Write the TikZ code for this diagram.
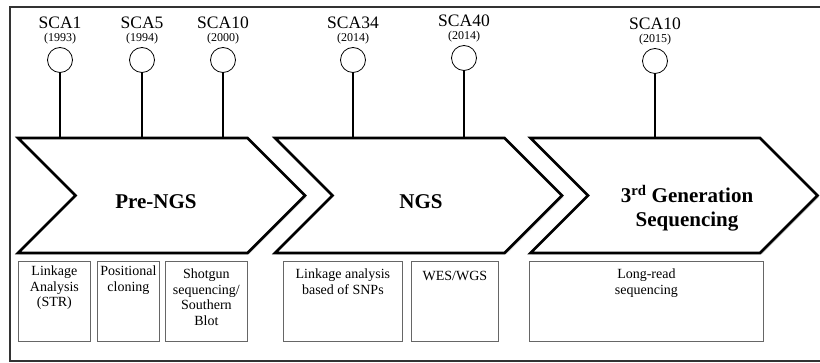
\documentclass[tikz,border=0pt]{standalone}
\usepackage{fontspec}
\setmainfont{Liberation Serif}
\usetikzlibrary{shapes.symbols,shadows,positioning}

\begin{document}
\begin{tikzpicture}[x=1pt,y=-1pt,
stage/.style={
draw, line width=2.6pt, fill=white,
shape=signal, signal to=east, signal from=west, signal pointer angle=90,
minimum width=287, minimum height=115, inner sep=0pt,
drop shadow={shadow xshift=1.5pt, shadow yshift=-1.5pt, opacity=0.35}
},
stagetext/.style={inner sep=0pt, align=center, font=\fontsize{21}{24}\selectfont\bfseries},
event/.style={draw, circle, minimum size=25, inner sep=0pt, line width=0.8pt},
stem/.style={line width=2.6pt},
year/.style={inner sep=0pt, font=\fontsize{12}{14}\selectfont},
gene/.style={inner sep=0pt, font=\fontsize{17.5}{20}\selectfont},
method/.style={draw=black!60, line width=0.8pt, minimum height=80, inner sep=0pt, anchor=north west},
methodtext/.style={inner sep=0pt, anchor=north, align=center, font=\fontsize{14}{15.5}\selectfont}
]
\useasboundingbox (0,0) rectangle (820,363);
\draw[line width=1.6pt, black!80] (10,7) rectangle (840,361);

% the three stages
\node[stage] (pre) at (161.5,195.5) {};
\node[stage] (ngs) at (418.5,195.5) {};
\node[stage] (third) at (674,195.5) {};
\node[stagetext] (pret) at (156,202) {Pre-NGS};
\node[stagetext] (ngst) at (421,202) {NGS};
\node[stagetext] (thirdt) at (687,208) {3\textsuperscript{rd} Generation\\Sequencing};

% milestones
\node[event] (e1) at (60,60) {};
\node[event] (e2) at (142,60) {};
\node[event] (e3) at (223,60) {};
\node[event] (e4) at (353,60) {};
\node[event] (e5) at (464,58) {};
\node[event] (e6) at (655,61) {};

\draw[stem] (e1.south) -- (e1.south |- pre.north);
\draw[stem] (e2.south) -- (e2.south |- pre.north);
\draw[stem] (e3.south) -- (e3.south |- pre.north);
\draw[stem] (e4.south) -- (e4.south |- ngs.north);
\draw[stem] (e5.south) -- (e5.south |- ngs.north);
\draw[stem] (e6.south) -- (e6.south |- third.north);

\node[year, above=3pt of e1] (y1) {(1993)};
\node[year, above=3pt of e2] (y2) {(1994)};
\node[year, above=3pt of e3] (y3) {(2000)};
\node[year, above=3pt of e4] (y4) {(2014)};
\node[year, above=3pt of e5] (y5) {(2014)};
\node[year, above=3pt of e6] (y6) {(2015)};

\node[gene, above=4pt of y1] (g1) {SCA1};
\node[gene, above=4pt of y2] (g2) {SCA5};
\node[gene, above=4pt of y3] (g3) {SCA10};
\node[gene, above=4pt of y4] (g4) {SCA34};
\node[gene, above=4pt of y5] (g5) {SCA40};
\node[gene, above=4pt of y6] (g6) {SCA10};

% methods of each stage
\node[method, minimum width=72] (m1) at (18,261) {};
\node[method, minimum width=62] (m2) at (97,261) {};
\node[method, minimum width=82] (m3) at (165,261) {};
\node[method, minimum width=119] (m4) at (283,261) {};
\node[method, minimum width=87] (m5) at (411,261) {};
\node[method, minimum width=234] (m6) at (529,261) {};

\node[methodtext] (l1) at ([yshift=-5]m1.north) {Linkage\\Analysis\\(STR)};
\node[methodtext] (l2) at ([yshift=-5]m2.north) {Positional\\cloning};
\node[methodtext] (l3) at ([yshift=-8]m3.north) {Shotgun\\sequencing/\\Southern\\Blot};
\node[methodtext] (l4) at ([yshift=-8]m4.north) {Linkage analysis\\based of SNPs};
\node[methodtext] (l5) at ([yshift=-10]m5.north) {WES/WGS};
\node[methodtext] (l6) at ([yshift=-8]m6.north) {Long-read\\sequencing};
\end{tikzpicture}
\end{document}
